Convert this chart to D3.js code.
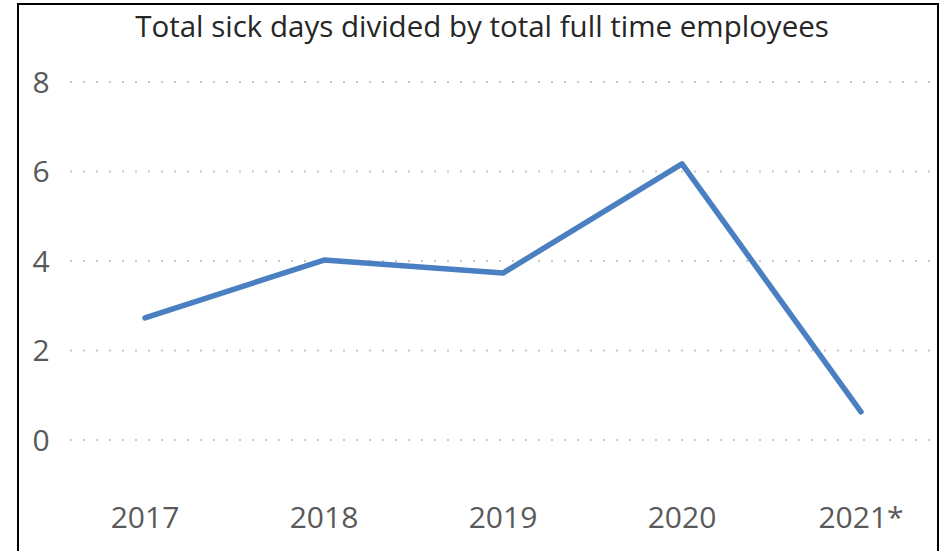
<!DOCTYPE html>
<html>
<head>
<meta charset="utf-8">
<script src="https://cdn.jsdelivr.net/npm/d3@7"></script>
<style>
  body { margin: 0; background: #fff; }
  svg { display: block; }
</style>
</head>
<body>
<div id="chart"></div>
<script>
// chart data
var years = ["2017", "2018", "2019", "2020", "2021*"];
var sickDays = [2.73, 4.02, 3.73, 6.17, 0.63];
var yTicks = [0, 2, 4, 6, 8];
var title = "Total sick days divided by total full time employees";

var WIDTH = 945;
var HEIGHT = 551;

var svg = d3.select("#chart")
  .append("svg")
  .attr("width", WIDTH)
  .attr("height", HEIGHT);

// outer frame
svg.append("rect")
  .attr("x", 18)
  .attr("y", 4)
  .attr("width", 920)
  .attr("height", 560)
  .style("fill", "#fff")
  .style("stroke", "#000")
  .style("stroke-width", 2);

var x = d3.scalePoint()
  .domain(years)
  .range([145, 861]);

var y = d3.scaleLinear()
  .domain([0, 8])
  .range([440, 82]);

// gridlines, dotted
svg.append("g")
  .selectAll("line")
  .data(yTicks)
  .enter()
  .append("line")
  .attr("x1", 70)
  .attr("x2", 932)
  .attr("y1", function(d) { return y(d); })
  .attr("y2", function(d) { return y(d); })
  .style("stroke", "#c8c8c8")
  .style("stroke-width", 2)
  .style("stroke-dasharray", "2,11");

var labelFont = "'Open Sans', sans-serif";

// y labels
svg.append("g")
  .selectAll("text")
  .data(yTicks)
  .enter()
  .append("text")
  .attr("x", 41)
  .attr("y", function(d) { return y(d); })
  .attr("dy", "0.36em")
  .attr("text-anchor", "middle")
  .style("font-family", labelFont)
  .style("font-size", "30px")
  .style("fill", "#595959")
  .text(function(d) { return d; });

// x labels
svg.append("g")
  .selectAll("text")
  .data(years)
  .enter()
  .append("text")
  .attr("x", function(d) { return x(d); })
  .attr("y", 528)
  .attr("text-anchor", "middle")
  .style("font-family", labelFont)
  .style("font-size", "30px")
  .style("fill", "#595959")
  .text(function(d) { return d; });

var line = d3.line()
  .x(function(d, i) { return x(years[i]); })
  .y(function(d) { return y(d); });

svg.append("path")
  .datum(sickDays)
  .attr("d", line)
  .style("fill", "none")
  .style("stroke", "#4a7fc1")
  .style("stroke-width", 5.5)
  .style("stroke-linecap", "round")
  .style("stroke-linejoin", "round");

svg.append("text")
  .attr("x", 482)
  .attr("y", 37)
  .attr("text-anchor", "middle")
  .style("font-family", labelFont)
  .style("font-size", "29.5px")
  .style("fill", "#262626")
  .text(title);
</script>
</body>
</html>
